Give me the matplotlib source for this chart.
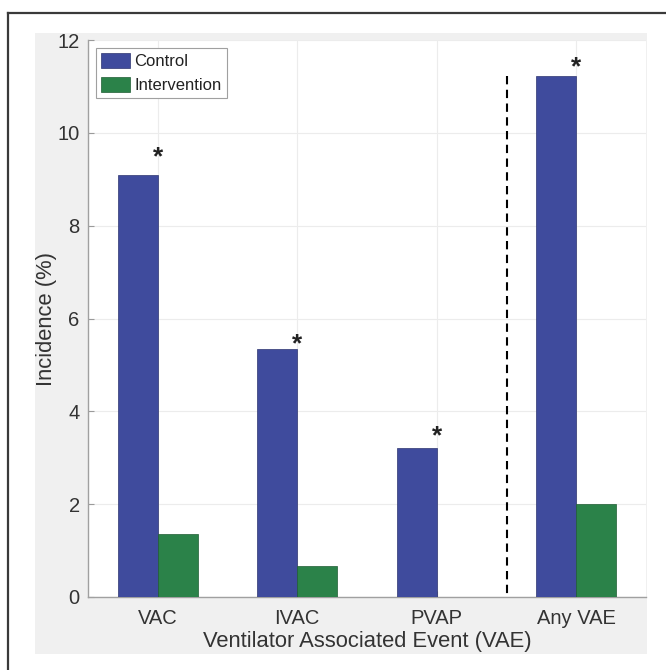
import matplotlib
matplotlib.use("Agg")
import matplotlib.pyplot as plt
import matplotlib.transforms as mtransforms
import numpy as np
from matplotlib.patches import Rectangle
from matplotlib.lines import Line2D

categories = ["VAC", "IVAC", "PVAP", "Any VAE"]
control = [9.09, 5.34, 3.22, 11.23]
intervention = [1.35, 0.67, 0.0, 2.0]
star_y = [9.55, 5.54, 3.54, 11.49]
series_names = ["Control", "Intervention"]
y_ticks = [0, 2, 4, 6, 8, 10, 12]
divider_x = 3.5
divider_top = 11.22

plt.rcParams['font.family'] = ['Liberation Sans', 'DejaVu Sans']

W, H = 666, 670
fig = plt.figure(figsize=(W / 100, H / 100), dpi=100)
fig.patch.set_facecolor('white')

# light gray panel behind the axes
fig.patches.append(Rectangle((35 / W, 1 - 654 / H), (647 - 35) / W, (654 - 33) / H,
                             transform=fig.transFigure, facecolor='#f0f0f0',
                             edgecolor='none', zorder=-5))
# outer border (top and left visible)
fig.lines.append(Line2D([8 / W, 1.0], [1 - 13 / H, 1 - 13 / H], transform=fig.transFigure,
                        color='#3a3a3a', lw=1.6, zorder=-4))
fig.lines.append(Line2D([8 / W, 8 / W], [0.0, 1 - 13 / H], transform=fig.transFigure,
                        color='#3a3a3a', lw=1.6, zorder=-4))

ax = fig.add_axes([88 / W, 1 - 597 / H, (646 - 88) / W, (597 - 40) / H])
ax.set_zorder(2)
ax.set_facecolor('white')

x = np.arange(1, len(categories) + 1)
bw = 0.287
blue = '#3f4b9d'
green = '#2b8249'
ax.bar(x - bw / 2, control, width=bw, color=blue, edgecolor='#2d3570', linewidth=0.5,
       label=series_names[0], zorder=3)
ax.bar(x + bw / 2, intervention, width=bw, color=green, edgecolor='#1f5c34', linewidth=0.5,
       label=series_names[1], zorder=3)

ax.plot([divider_x, divider_x], [divider_top, 0], color='black', lw=1.5,
        linestyle=(0, (4, 2.6)), zorder=4)

star_tr = mtransforms.offset_copy(ax.transData, fig=fig, x=0, y=-4, units='dots')
for xi, yi in zip(x, star_y):
    ax.text(xi, yi, '*', ha='center', va='center', fontsize=19, fontweight='bold',
            color='#222222', zorder=5, transform=star_tr)

ax.set_xlim(0.5, 4.5)
ax.set_ylim(0, 12)
ax.set_xticks(x)
ax.set_xticklabels(categories)
ax.set_yticks(y_ticks)
ax.tick_params(axis='both', direction='in', length=4, color='#9a9a9a',
               labelsize=14.5, labelcolor='#333333', width=0.8)
ax.tick_params(axis='x', pad=9)
ax.tick_params(axis='y', pad=6)
ax.grid(True, color='#ececec', lw=0.8, zorder=0)
ax.set_axisbelow(True)
for s in ['top', 'right']:
    ax.spines[s].set_visible(False)
for s in ['left', 'bottom']:
    ax.spines[s].set_color('#a0a0a0')
    ax.spines[s].set_linewidth(1.0)

ax.set_xlabel('Ventilator Associated Event (VAE)', fontsize=15.8, color='#333333', labelpad=2)
ax.set_ylabel('Incidence (%)', fontsize=15.8, color='#333333', labelpad=0)

leg = ax.legend(loc='upper left', bbox_to_anchor=(8 / 558, 1 - 8 / 557), fontsize=12,
                frameon=True, fancybox=False, edgecolor='#a0a0a0', framealpha=1,
                handlelength=1.75, handleheight=1.0, handletextpad=0.25,
                borderpad=0.3, labelspacing=0.45, borderaxespad=0)
leg.get_frame().set_linewidth(0.8)
for t in leg.get_texts():
    t.set_color('#222222')

fig.savefig('out.png', dpi=100, facecolor=fig.get_facecolor())
